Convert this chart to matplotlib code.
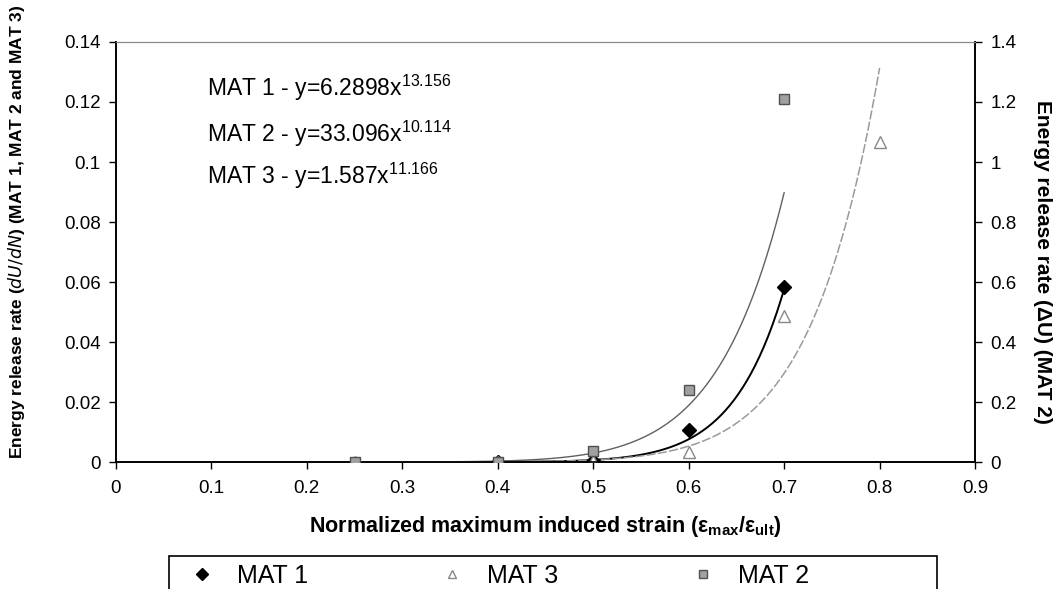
import numpy as np
import matplotlib
matplotlib.use("Agg")
import matplotlib.pyplot as plt
from matplotlib.ticker import FuncFormatter
from matplotlib.lines import Line2D
from matplotlib.patches import Rectangle

plt.rcParams['font.family'] = ['Liberation Sans', 'DejaVu Sans']
plt.rcParams['mathtext.default'] = 'regular'

# measured points
mat1_x = [0.4, 0.5, 0.6, 0.7]
mat1_y = [0.0, 0.0005, 0.0106, 0.0585]
mat3_x = [0.25, 0.4, 0.5, 0.6, 0.7, 0.8]
mat3_y = [0.0, 0.0, 0.0002, 0.0033, 0.0487, 0.1065]
mat2_x = [0.25, 0.4, 0.5, 0.6, 0.7]
mat2_y = [0.0, 0.0, 0.036, 0.239, 1.21]   # right axis

# power-law trendlines y = a * x^b, as printed on the chart
fit_names = ['MAT 1', 'MAT 2', 'MAT 3']
fit_a = [6.2898, 33.096, 1.587]
fit_b = [13.156, 10.114, 11.166]
fit_a_txt = ['6.2898', '33.096', '1.587']
fit_b_txt = ['13.156', '10.114', '11.166']
fit_xmin = [0.4, 0.25, 0.4]
fit_xmax = [0.7, 0.7, 0.8]

fig = plt.figure(figsize=(10.58, 5.89), dpi=100)
ax = fig.add_axes([0.1096, 0.2156, 0.8120, 0.7131])
ax2 = ax.twinx()

def fit_curve(i):
    xs = np.linspace(fit_xmin[i], fit_xmax[i], 200)
    return xs, fit_a[i] * xs ** fit_b[i]

# trendlines
xs, ys = fit_curve(0)
ax.plot(xs, ys, color='black', lw=1.4, zorder=2)
xs, ys = fit_curve(2)
ax.plot(xs, ys, color='#9a9a9a', lw=1.1, ls=(0, (6, 1.5)), zorder=2)
xs, ys = fit_curve(1)
ax2.plot(xs, ys, color='#606060', lw=1.0, zorder=2)

# points
ax.plot(mat1_x, mat1_y, ls='none', marker='D', ms=7.5, mfc='black', mec='black', zorder=4)
ax.plot(mat3_x, mat3_y, ls='none', marker='^', ms=8.5, mfc='white', mec='#888888', mew=1.0, zorder=4)
ax2.plot(mat2_x, mat2_y, ls='none', marker='s', ms=7, mfc='#a0a0a0', mec='#505050', mew=1.0, zorder=4)

ax.set_xlim(0, 0.9)
ax.set_ylim(0, 0.14)
ax2.set_ylim(0, 1.4)
ax.set_xticks(np.arange(0, 0.91, 0.1))
ax.set_yticks(np.arange(0, 0.141, 0.02))
ax2.set_yticks(np.arange(0, 1.41, 0.2))
fmt = FuncFormatter(lambda v, p: '%g' % round(v, 3))
ax.xaxis.set_major_formatter(fmt)
ax.yaxis.set_major_formatter(fmt)
ax2.yaxis.set_major_formatter(fmt)

for a in (ax, ax2):
    a.tick_params(direction='out', length=5, width=1, labelsize=13.5, colors='black')
    a.spines['top'].set_color('#888888')
    a.spines['top'].set_linewidth(0.8)
    a.spines['left'].set_linewidth(1.2)
    a.spines['right'].set_linewidth(1.2)
    a.spines['bottom'].set_linewidth(1.2)
ax.tick_params(axis='x', pad=8)
ax.tick_params(axis='y', pad=6)
ax2.tick_params(axis='y', pad=6)

ax.set_xlabel(r'Normalized maximum induced strain ($\epsilon_{max}/\epsilon_{ult}$)',
              fontsize=15.5, fontweight='bold', labelpad=12)
fig.text(0.016, 0.606, 'Energy release rate ($\\mathit{dU/dN}$) (MAT 1, MAT 2 and MAT 3)',
         rotation=90, fontsize=12.5, fontweight='bold', ha='center', va='center')
fig.text(0.985, 0.555, 'Energy release rate (ΔU) (MAT 2)', rotation=-90,
         fontsize=15, fontweight='bold', ha='center', va='center')

# equations
eq_y = [0.851, 0.773, 0.702]
for i, yy in enumerate(eq_y):
    fig.text(0.196, yy, '%s - y=%sx$^{%s}$' % (fit_names[i], fit_a_txt[i], fit_b_txt[i]),
             fontsize=16.5, va='center', ha='left')

handles = [
    Line2D([], [], ls='none', marker='D', ms=6, mfc='black', mec='black'),
    Line2D([], [], ls='none', marker='^', ms=6, mfc='white', mec='#888888'),
    Line2D([], [], ls='none', marker='s', ms=6, mfc='#a0a0a0', mec='#505050'),
]
fig.legend(handles, ['MAT 1', 'MAT 3', 'MAT 2'], ncol=3,
           loc='upper left', bbox_to_anchor=(0.1685, 0.058),
           bbox_transform=fig.transFigure, fontsize=18, frameon=False,
           handlelength=1.2, handletextpad=0.8, columnspacing=5.17,
           borderpad=0.35, borderaxespad=0)
fig.patches.append(Rectangle((0.1597, -0.02), 0.7259, 0.076, transform=fig.transFigure,
                             fill=False, edgecolor='black', lw=1.2))

fig.savefig('out.png', dpi=100)
